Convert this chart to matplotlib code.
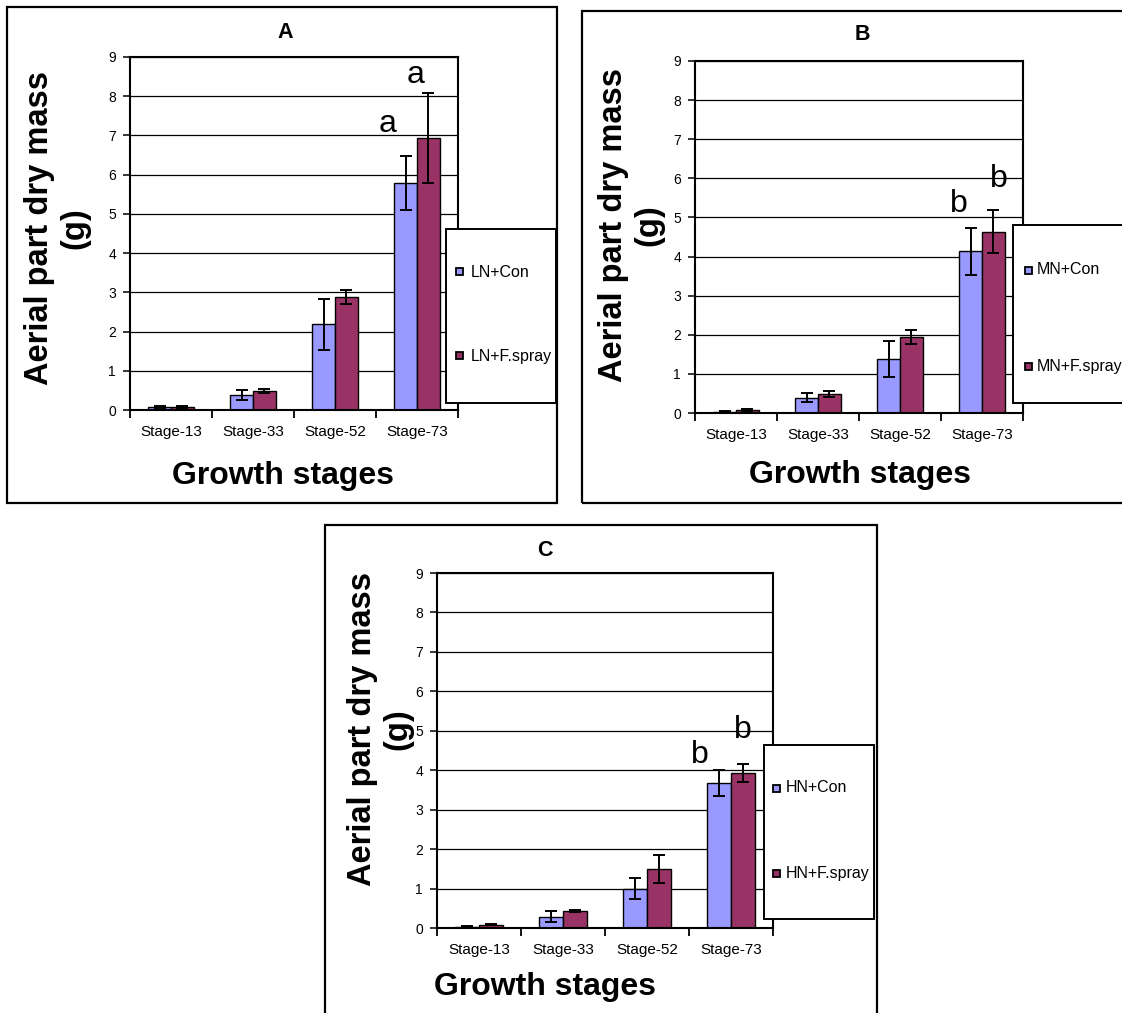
import matplotlib
matplotlib.use("Agg")
import matplotlib.pyplot as plt
from matplotlib.patches import Rectangle
import numpy as np

plt.rcParams['font.family'] = ['Liberation Sans', 'DejaVu Sans']

W, H = 1122, 1013

# ---- data -------------------------------------------------------------
stages = ["Stage-13", "Stage-33", "Stage-52", "Stage-73"]
y_ticks = list(range(10))

ln_con = [0.08, 0.38, 2.18, 5.78]
ln_con_err = [0.02, 0.13, 0.66, 0.69]
ln_spray = [0.08, 0.49, 2.88, 6.94]
ln_spray_err = [0.02, 0.05, 0.18, 1.15]

mn_con = [0.03, 0.39, 1.37, 4.13]
mn_con_err = [0.01, 0.12, 0.46, 0.61]
mn_spray = [0.08, 0.49, 1.94, 4.64]
mn_spray_err = [0.02, 0.07, 0.18, 0.54]

hn_con = [0.03, 0.29, 1.00, 3.68]
hn_con_err = [0.01, 0.13, 0.26, 0.33]
hn_spray = [0.08, 0.43, 1.50, 3.93]
hn_spray_err = [0.01, 0.03, 0.36, 0.23]

# significance letters over the Stage-73 bars (control, spray)
letters_a = ["a", "a"]
letters_b = ["b", "b"]
letters_c = ["b", "b"]

CON_COLOR = "#9999FF"
SPRAY_COLOR = "#993366"
BAR_W = 0.28


def fx(px):
    return px / W


def fy(py):
    return 1 - py / H


fig = plt.figure(figsize=(W / 100, H / 100), dpi=100)
fig.patch.set_facecolor("white")


def frame(l, t, r, b):
    fig.add_artist(Rectangle((fx(l), fy(b)), fx(r) - fx(l), fy(t) - fy(b),
                             transform=fig.transFigure, fill=False,
                             edgecolor="black", linewidth=1.6, zorder=0.5,
                             clip_on=False))


def legend(l, t, r, b, mx, y1, y2, tx, labels):
    fig.add_artist(Rectangle((fx(l), fy(b)), fx(r) - fx(l), fy(t) - fy(b),
                             transform=fig.transFigure, facecolor="white",
                             edgecolor="black", linewidth=1.4, zorder=5,
                             clip_on=False))
    for yy, lab, col in zip((y1, y2), labels, (CON_COLOR, SPRAY_COLOR)):
        fig.add_artist(Rectangle((fx(mx), fy(yy + 3.5)), fx(7), 7 / H,
                                 transform=fig.transFigure, facecolor=col,
                                 edgecolor="black", linewidth=1.3, zorder=6))
        fig.text(fx(tx), fy(yy), lab, fontsize=11.5, ha="left", va="center",
                 zorder=7)


def panel(l, t, r, b, con, con_err, spray, spray_err, letters, letter_pos):
    ax = fig.add_axes([fx(l), fy(b), fx(r) - fx(l), fy(t) - fy(b)])
    x = np.arange(len(stages))
    ax.bar(x - BAR_W / 2, con, BAR_W, color=CON_COLOR, edgecolor="black",
           linewidth=1.0, zorder=2)
    ax.bar(x + BAR_W / 2, spray, BAR_W, color=SPRAY_COLOR, edgecolor="black",
           linewidth=1.0, zorder=2)
    ek = dict(fmt="none", ecolor="black", elinewidth=1.4, capsize=4.5,
              capthick=1.4, zorder=3)
    ax.errorbar(x - BAR_W / 2, con, yerr=con_err, **ek)
    ax.errorbar(x + BAR_W / 2, spray, yerr=spray_err, **ek)

    last = len(stages) - 1
    for (dx, yb), lab, xc in zip(letter_pos, letters,
                                 (last - BAR_W / 2, last + BAR_W / 2)):
        ax.text(xc + dx, yb, lab, fontsize=23, ha="center", va="baseline",
                zorder=4)

    ax.set_xlim(-0.5, len(stages) - 0.5)
    ax.set_ylim(0, 9)
    ax.set_yticks(y_ticks)
    ax.set_yticklabels([str(v) for v in y_ticks], fontsize=10)
    ax.yaxis.grid(True, color="black", linewidth=0.9)
    ax.set_axisbelow(True)
    ax.set_xticks(x)
    ax.set_xticklabels(stages, fontsize=11)
    ax.set_xticks(np.arange(len(stages) + 1) - 0.5, minor=True)
    ax.tick_params(axis="x", which="major", length=0, pad=11)
    ax.tick_params(axis="x", which="minor", length=6, width=1.3,
                   direction="out")
    ax.tick_params(axis="y", length=5, width=1.1, direction="out", pad=5)
    for s in ax.spines.values():
        s.set_linewidth(1.5)
        s.set_color("black")
    return ax


# ---- panel A ----------------------------------------------------------
frame(7, 7, 557, 503)
panel(130, 57, 458, 410, ln_con, ln_con_err, ln_spray, ln_spray_err,
      letters_a, [(-0.22, 7.09), (-0.16, 8.34)])
fig.text(fx(285), fy(32), "A", fontsize=15.5, fontweight="bold",
         ha="center", va="center")
fig.text(fx(57), fy(228), "Aerial part dry mass\n(g)", fontsize=23.5,
         fontweight="bold", rotation=90, ha="center", va="center",
         multialignment="center")
fig.text(fx(283), fy(476), "Growth stages", fontsize=23, fontweight="bold",
         ha="center", va="center")
legend(446, 229, 556, 403, 456, 272, 356, 471, ["LN+Con", "LN+F.spray"])

# ---- panel B ----------------------------------------------------------
frame(582, 11, 1130, 503)
panel(695, 61, 1023, 413, mn_con, mn_con_err, mn_spray, mn_spray_err,
      letters_b, [(-0.14, 5.14), (0.06, 5.78)])
fig.text(fx(862), fy(35), "B", fontsize=15.5, fontweight="bold",
         ha="center", va="center")
fig.text(fx(631), fy(225), "Aerial part dry mass\n(g)", fontsize=23.5,
         fontweight="bold", rotation=90, ha="center", va="center",
         multialignment="center")
fig.text(fx(860), fy(475), "Growth stages", fontsize=23, fontweight="bold",
         ha="center", va="center")
legend(1013, 225, 1130, 403, 1025, 270, 366, 1037, ["MN+Con", "MN+F.spray"])

# ---- panel C ----------------------------------------------------------
frame(325, 525, 877, 1020)
panel(437, 573, 773, 928, hn_con, hn_con_err, hn_spray, hn_spray_err,
      letters_c, [(-0.23, 4.18), (0.0, 4.82)])
fig.text(fx(545), fy(551), "C", fontsize=15.5, fontweight="bold",
         ha="center", va="center")
fig.text(fx(380), fy(729), "Aerial part dry mass\n(g)", fontsize=23.5,
         fontweight="bold", rotation=90, ha="center", va="center",
         multialignment="center")
fig.text(fx(545), fy(987), "Growth stages", fontsize=23, fontweight="bold",
         ha="center", va="center")
legend(764, 745, 874, 919, 773, 788, 873, 786, ["HN+Con", "HN+F.spray"])

fig.savefig("out.png", dpi=100, facecolor="white")
